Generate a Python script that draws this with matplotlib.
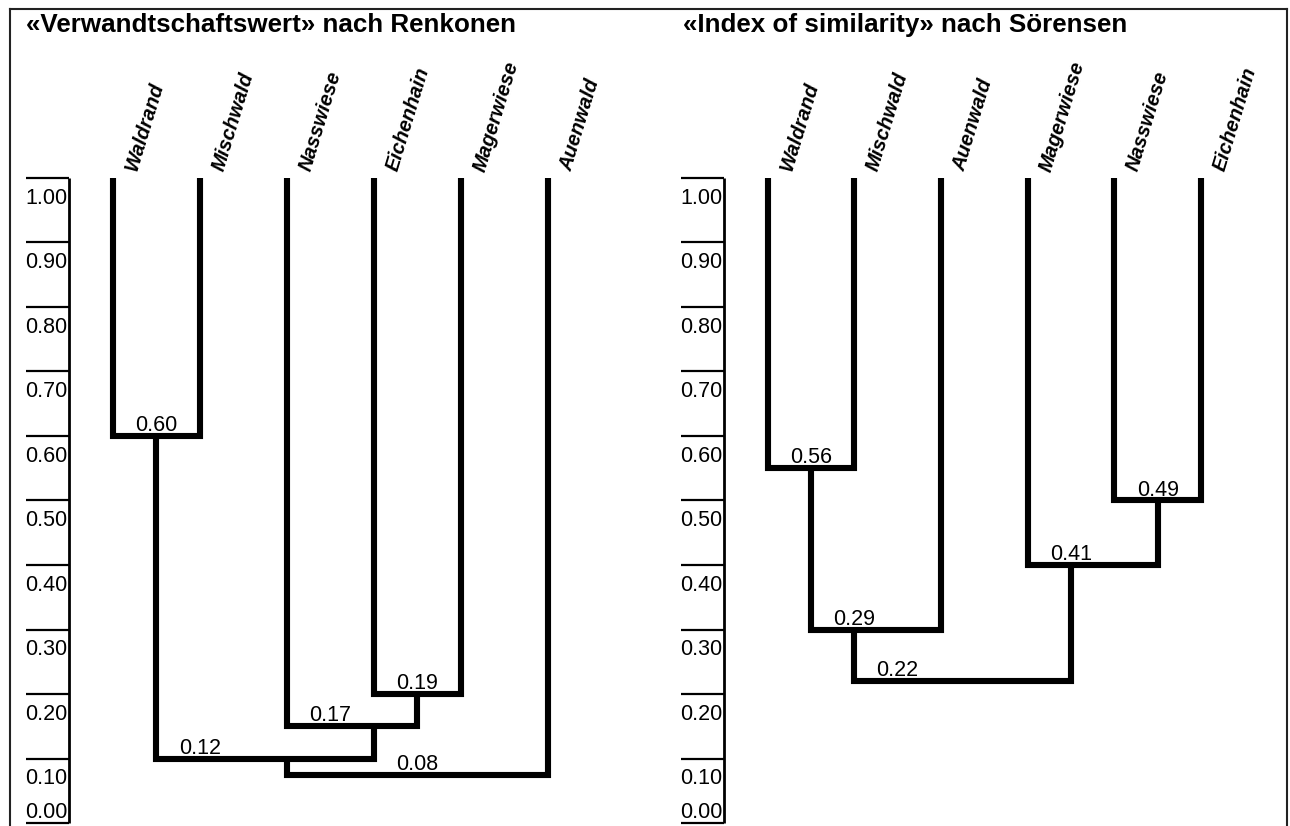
import matplotlib
matplotlib.use("Agg")
import matplotlib.pyplot as plt
from matplotlib.lines import Line2D

plt.rcParams['font.family'] = ['Liberation Sans', 'DejaVu Sans']

# ---------------- data ----------------
left_title = "«Verwandtschaftswert» nach Renkonen"
left_leaves = ["Waldrand", "Mischwald", "Nasswiese", "Eichenhain", "Magerwiese", "Auenwald"]
left_pairs = [("Waldrand", "Mischwald"), ("Eichenhain", "Magerwiese"),
              ("Nasswiese", "N2"), ("N1", "N3"), ("N4", "Auenwald")]
left_heights = [0.60, 0.20, 0.15, 0.10, 0.075]
left_labels = ["0.60", "0.19", "0.17", "0.12", "0.08"]

right_title = "«Index of similarity» nach Sörensen"
right_leaves = ["Waldrand", "Mischwald", "Auenwald", "Magerwiese", "Nasswiese", "Eichenhain"]
right_pairs = [("Waldrand", "Mischwald"), ("Nasswiese", "Eichenhain"),
               ("Magerwiese", "N2"), ("N1", "Auenwald"), ("N4", "N3")]
right_heights = [0.55, 0.50, 0.40, 0.30, 0.22]
right_labels = ["0.56", "0.49", "0.41", "0.29", "0.22"]

tick_values = [1.00, 0.90, 0.80, 0.70, 0.60, 0.50, 0.40, 0.30, 0.20, 0.10, 0.00]
tick_labels = ["1.00", "0.90", "0.80", "0.70", "0.60", "0.50", "0.40", "0.30", "0.20", "0.10", "0.00"]

# ---------------- layout (leaf-index units) ----------------
left_stem_at = [0.5, 3.5, 3.0, 2.0, None]
left_label_at = [0.5, 3.5, 2.5, 1.0, 3.5]
right_stem_at = [0.5, 4.5, 3.5, 1.0, None]
right_label_at = [0.5, 4.5, 3.5, 1.0, 1.5]

W, H = 1290, 826
fig = plt.figure(figsize=(W / 100, H / 100), dpi=100)
fig.patch.set_facecolor("white")

FS = 15.5


def panel(rect, title, title_x, leaves, pairs, heights, labels, stem_at, label_at):
    ax = fig.add_axes(rect)
    ax.set_xlim(-1.0, 5.6)
    ax.set_ylim(0, 1)
    ax.axis("off")
    # ruler
    ax.plot([-0.5, -0.5], [0, 1], color="black", lw=2.0, clip_on=False,
            solid_capstyle="butt")
    for v, t in zip(tick_values, tick_labels):
        ax.plot([-1.0, -0.5], [v, v], color="black", lw=1.6, clip_on=False,
                solid_capstyle="butt")
        off = (-0.5, -18.5) if v > 0 else (-0.5, 3.5)
        ax.annotate(t, (-1.0, v), xytext=off, textcoords="offset points",
                    ha="left", va="baseline", fontsize=FS, annotation_clip=False)
    # dendrogram
    pos = {name: (i, 1.0) for i, name in enumerate(leaves)}
    for k, ((a, b), h, lab) in enumerate(zip(pairs, heights, labels)):
        xa, ya = pos[a]
        xb, yb = pos[b]
        ax.plot([xa, xa, xb, xb], [ya, h, h, yb], color="black", lw=4.4,
                solid_joinstyle="miter", solid_capstyle="butt", clip_on=False)
        if stem_at[k] is not None:
            pos["N%d" % (k + 1)] = (stem_at[k], h)
        ax.annotate(lab, (label_at[k], h), xytext=(0, 3.5), textcoords="offset points",
                    ha="center", va="baseline", fontsize=FS, annotation_clip=False)
    # leaf labels
    for i, name in enumerate(leaves):
        ax.annotate(name, (i, 1.0), xytext=(17, 4), textcoords="offset points",
                    ha="left", va="baseline", rotation=73, rotation_mode="anchor",
                    fontsize=14.5, fontweight="bold", fontstyle="italic",
                    annotation_clip=False)
    fig.text(title_x, 1 - 32 / H, title, ha="left", va="baseline",
             fontsize=18.7, fontweight="bold")
    return ax


panel([26 / W, 3 / H, 574 / W, 645 / H], left_title, 26 / W,
      left_leaves, left_pairs, left_heights, left_labels, left_stem_at, left_label_at)
panel([681 / W, 3 / H, 572 / W, 645 / H], right_title, 683 / W,
      right_leaves, right_pairs, right_heights, right_labels, right_stem_at, right_label_at)

# outer frame (open at bottom)
x0, x1, yt = 10 / W, 1287 / W, 1 - 9 / H
for xs, ys in [([x0, x0], [-0.01, yt]), ([x0, x1], [yt, yt]), ([x1, x1], [yt, -0.01])]:
    fig.add_artist(Line2D(xs, ys, transform=fig.transFigure, color="#222222", lw=1.5))

fig.savefig("out.png", dpi=100, facecolor="white")
